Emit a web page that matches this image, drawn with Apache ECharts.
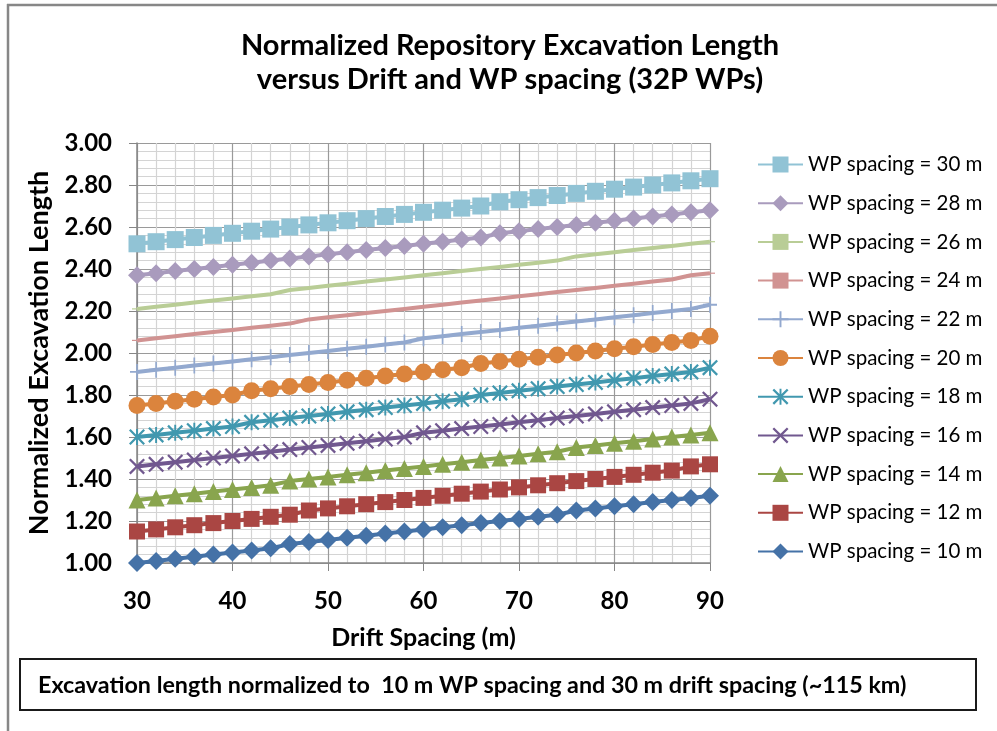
<!DOCTYPE html>
<html>
<head>
<meta charset="utf-8">
<script src="https://cdn.jsdelivr.net/npm/echarts@6/dist/echarts.min.js"></script>
<style>
html,body{margin:0;padding:0;background:#fff;overflow:hidden;}
#chart{width:997px;height:731px;}
</style>
</head>
<body>
<div id="chart"></div>
<script>
// Drift spacing (m)
var driftSpacing = [30,32,34,36,38,40,42,44,46,48,50,52,54,56,58,60,62,64,66,68,70,72,74,76,78,80,82,84,86,88,90];

var seriesNames = ['WP spacing = 30 m','WP spacing = 28 m','WP spacing = 26 m','WP spacing = 24 m','WP spacing = 22 m','WP spacing = 20 m','WP spacing = 18 m','WP spacing = 16 m','WP spacing = 14 m','WP spacing = 12 m','WP spacing = 10 m'];

var wp30 = [2.52,2.53,2.54,2.55,2.56,2.57,2.58,2.59,2.60,2.61,2.62,2.63,2.64,2.65,2.66,2.67,2.68,2.69,2.70,2.72,2.73,2.74,2.75,2.76,2.77,2.78,2.79,2.80,2.81,2.82,2.83];
var wp28 = [2.37,2.38,2.39,2.40,2.41,2.42,2.43,2.44,2.45,2.46,2.47,2.48,2.49,2.50,2.51,2.52,2.53,2.54,2.55,2.57,2.58,2.59,2.60,2.61,2.62,2.63,2.64,2.65,2.66,2.67,2.68];
var wp26 = [2.21,2.22,2.23,2.24,2.25,2.26,2.27,2.28,2.30,2.31,2.32,2.33,2.34,2.35,2.36,2.37,2.38,2.39,2.40,2.41,2.42,2.43,2.44,2.46,2.47,2.48,2.49,2.50,2.51,2.52,2.53];
var wp24 = [2.06,2.07,2.08,2.09,2.10,2.11,2.12,2.13,2.14,2.16,2.17,2.18,2.19,2.20,2.21,2.22,2.23,2.24,2.25,2.26,2.27,2.28,2.29,2.30,2.31,2.32,2.33,2.34,2.35,2.37,2.38];
var wp22 = [1.91,1.92,1.93,1.94,1.95,1.96,1.97,1.98,1.99,2.00,2.01,2.02,2.03,2.04,2.05,2.07,2.08,2.09,2.10,2.11,2.12,2.13,2.14,2.15,2.16,2.17,2.18,2.19,2.20,2.21,2.23];
var wp20 = [1.75,1.76,1.77,1.78,1.79,1.80,1.82,1.83,1.84,1.85,1.86,1.87,1.88,1.89,1.90,1.91,1.92,1.93,1.95,1.96,1.97,1.98,1.99,2.00,2.01,2.02,2.03,2.04,2.05,2.06,2.08];
var wp18 = [1.60,1.61,1.62,1.63,1.64,1.65,1.67,1.68,1.69,1.70,1.71,1.72,1.73,1.74,1.75,1.76,1.77,1.78,1.80,1.81,1.82,1.83,1.84,1.85,1.86,1.87,1.88,1.89,1.90,1.91,1.93];
var wp16 = [1.46,1.47,1.48,1.49,1.50,1.51,1.52,1.53,1.54,1.55,1.56,1.57,1.58,1.59,1.60,1.62,1.63,1.64,1.65,1.66,1.67,1.68,1.69,1.70,1.71,1.72,1.73,1.74,1.75,1.76,1.78];
var wp14 = [1.30,1.31,1.32,1.33,1.34,1.35,1.36,1.37,1.39,1.40,1.41,1.42,1.43,1.44,1.45,1.46,1.47,1.48,1.49,1.50,1.51,1.52,1.53,1.55,1.56,1.57,1.58,1.59,1.60,1.61,1.62];
var wp12 = [1.15,1.16,1.17,1.18,1.19,1.20,1.21,1.22,1.23,1.25,1.26,1.27,1.28,1.29,1.30,1.31,1.32,1.33,1.34,1.35,1.36,1.37,1.38,1.39,1.40,1.41,1.42,1.43,1.44,1.46,1.47];
var wp10 = [1.00,1.01,1.02,1.03,1.04,1.05,1.06,1.07,1.09,1.10,1.11,1.12,1.13,1.14,1.15,1.16,1.17,1.18,1.19,1.20,1.21,1.22,1.23,1.25,1.26,1.27,1.28,1.29,1.30,1.31,1.32];

var allValues = [wp30,wp28,wp26,wp24,wp22,wp20,wp18,wp16,wp14,wp12,wp10];

var yTicks = [1.00,1.20,1.40,1.60,1.80,2.00,2.20,2.40,2.60,2.80,3.00];
var xTicks = [30,40,50,60,70,80,90];

var colors = ['#91C3D5','#A99BBD','#B9CD96','#D19392','#93A9CF','#DB843D','#4198AF','#71588F','#89A54E','#AA4643','#4572A7'];

var X_PATH = 'path://M0,1L1,0L5,4L9,0L10,1L6,5L10,9L9,10L5,6L1,10L0,9L4,5Z';
var STAR_PATH = 'path://M0,1L1,0L5,4L9,0L10,1L6,5L10,9L9,10L5,6L1,10L0,9L4,5ZM4.4,0L5.6,0L5.6,10L4.4,10Z';
var PLUS_PATH = 'path://M4.4,0L5.6,0L5.6,4.4L10,4.4L10,5.6L5.6,5.6L5.6,10L4.4,10L4.4,5.6L0,5.6L0,4.4L4.4,4.4Z';
var DASH_PATH = 'path://M0,0L10,0L10,3L0,3Z';

var symbols = ['rect','diamond',DASH_PATH,DASH_PATH,PLUS_PATH,'circle',STAR_PATH,X_PATH,'triangle','rect','diamond'];
var symbolSizes = [17,18,[10,4],[10,4],[14,16],17,16,16,17,16,18];

var FONT = 'Lato, "Liberation Sans", sans-serif';

var series = seriesNames.map(function(name, i){
  return {
    name: name,
    type: 'line',
    data: driftSpacing.map(function(x, j){ return [x, allValues[i][j]]; }),
    symbol: symbols[i],
    symbolSize: symbolSizes[i],
    symbolKeepAspect: (i === 2 || i === 3),
    showAllSymbol: true,
    lineStyle: {width: 4, color: colors[i]},
    itemStyle: {color: colors[i]},
    emphasis: {disabled: true},
    z: 2 + (10 - i) * 0.01,
    animation: false
  };
});

var chart = echarts.init(document.getElementById('chart'), null, {renderer: 'canvas'});
chart.setOption({
  animation: false,
  backgroundColor: '#ffffff',
  color: colors,
  title: {
    text: 'Normalized Repository Excavation Length\nversus Drift and WP spacing (32P WPs)',
    left: 505,
    top: 24,
    textAlign: 'center',
    textStyle: {fontFamily: FONT, fontSize: 29, fontWeight: 'bold', color: '#000', lineHeight: 34}
  },
  grid: {left: 137, right: 287, top: 143, bottom: 168, containLabel: false},
  legend: {
    orient: 'vertical',
    left: 752,
    top: 149,
    itemWidth: 45,
    itemHeight: 20,
    itemGap: 17.7,
    data: seriesNames,
    textStyle: {fontFamily: FONT, fontSize: 20.5, color: '#000', lineHeight: 20},
    selectedMode: false
  },
  xAxis: {
    type: 'value',
    min: 30, max: 90, interval: 10,
    name: 'Drift Spacing (m)',
    nameLocation: 'middle',
    nameGap: 62,
    nameTextStyle: {fontFamily: FONT, fontSize: 25, fontWeight: 'bold', color: '#000'},
    axisLine: {show: true, lineStyle: {color: '#868686', width: 1.5}},
    axisTick: {show: true, length: 8, lineStyle: {color: '#868686'}},
    axisLabel: {fontFamily: FONT, fontSize: 24, fontWeight: 'bold', color: '#000', margin: 26,
      formatter: function(v){ return xTicks.indexOf(v) >= 0 ? String(v) : ''; }},
    splitLine: {show: true, lineStyle: {color: '#9a9a9a', width: 1.2}},
    minorTick: {show: false, splitNumber: 5},
    minorSplitLine: {show: true, lineStyle: {color: '#d4d4d4', width: 1.2}}
  },
  yAxis: {
    type: 'value',
    min: 1, max: 3, interval: 0.2,
    name: 'Normalized Excavation Length',
    nameLocation: 'middle',
    nameGap: 84,
    nameRotate: 90,
    nameTextStyle: {fontFamily: FONT, fontSize: 27, fontWeight: 'bold', color: '#000'},
    axisLine: {show: true, lineStyle: {color: '#868686', width: 1.5}},
    axisTick: {show: true, length: 8, lineStyle: {color: '#868686'}},
    axisLabel: {fontFamily: FONT, fontSize: 24, fontWeight: 'bold', color: '#000', margin: 25,
      formatter: function(v){ return v.toFixed(2); }},
    splitLine: {show: true, lineStyle: {color: '#9a9a9a', width: 1.2}},
    minorTick: {show: false, splitNumber: 5},
    minorSplitLine: {show: true, lineStyle: {color: '#d4d4d4', width: 1.2}}
  },
  graphic: [
    {type: 'line', shape: {x1: 8, y1: 4, x2: 8, y2: 731},
      style: {stroke: '#878787', lineWidth: 2.5}, silent: true},
    {type: 'line', shape: {x1: 7, y1: 5, x2: 997, y2: 5},
      style: {stroke: '#878787', lineWidth: 2.5}, silent: true},
    {type: 'rect', shape: {x: 20, y: 659, width: 956, height: 51},
      style: {fill: '#fff', stroke: '#1a1a1a', lineWidth: 2}, silent: true},
    {type: 'text', x: 38, y: 685,
      style: {text: 'Excavation length normalized to  10 m WP spacing and 30 m drift spacing (~115 km)',
        fontFamily: FONT, fontSize: 23.3, fontWeight: 'bold', fill: '#000', textVerticalAlign: 'middle', verticalAlign: 'middle'},
      silent: true}
  ],
  series: series
});
</script>
</body>
</html>
